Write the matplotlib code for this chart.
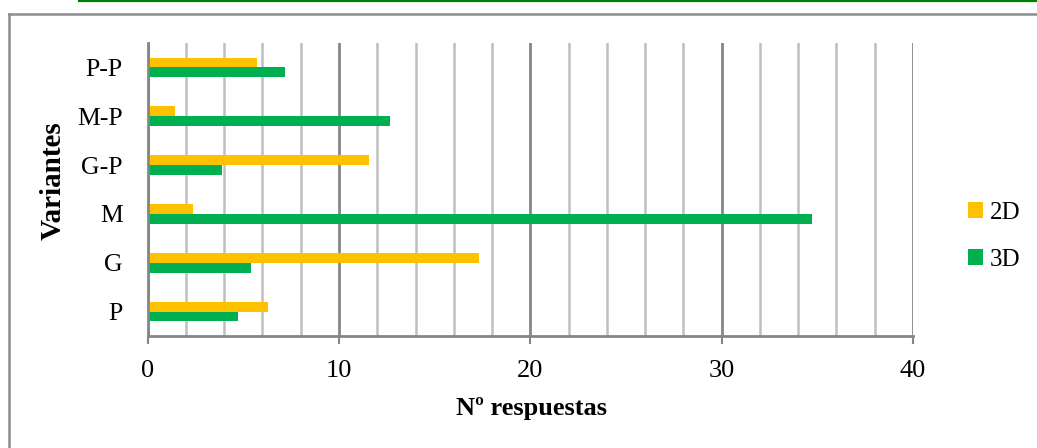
import matplotlib
matplotlib.use("Agg")
import matplotlib.pyplot as plt
from matplotlib.lines import Line2D
from matplotlib.ticker import MultipleLocator
import numpy as np

categories = ["P", "G", "M", "G-P", "M-P", "P-P"]
values_2d = [6.3, 17.3, 2.35, 11.55, 1.45, 5.7]
values_3d = [4.7, 5.4, 34.7, 3.9, 12.65, 7.2]
series_names = ["2D", "3D"]
x_ticks = [0, 10, 20, 30, 40]

W, H = 1037, 448
plt.rcParams["font.family"] = ["Liberation Serif", "DejaVu Serif"]

fig = plt.figure(figsize=(W / 100, H / 100), dpi=100)
ax = fig.add_axes([147.7 / W, 1 - 336 / H, (913 - 147.7) / W, (336 - 43) / H])

y = np.arange(len(categories))
bh = 0.2
b2 = ax.barh(y + bh / 2, values_2d, height=bh, color="#FFC000", label=series_names[0], zorder=3)
b3 = ax.barh(y - bh / 2, values_3d, height=bh, color="#00B050", label=series_names[1], zorder=3)

ax.set_xlim(0, 40)
ax.set_ylim(-0.5, len(categories) - 0.5)
ax.set_xticks(x_ticks)
ax.xaxis.set_minor_locator(MultipleLocator(2))
ax.grid(which="minor", axis="x", color="#BFBFBF", lw=1.8, zorder=1)
ax.grid(which="major", axis="x", color="#868686", lw=2, zorder=2)
ax.set_yticks(y)
ax.set_yticklabels(categories)

for s in ["top", "right"]:
    ax.spines[s].set_visible(False)
for s in ["left", "bottom"]:
    ax.spines[s].set_color("#868686")
    ax.spines[s].set_linewidth(2)
    ax.spines[s].set_zorder(4)

ax.tick_params(axis="x", which="major", length=6, width=1.5, color="#868686",
               labelsize=19, pad=11)
ax.tick_params(axis="x", which="minor", length=0)
ax.tick_params(axis="y", length=0, labelsize=18.5, pad=18)

ax.set_xlabel("Nº respuestas", fontsize=19, fontweight="bold")
ax.set_ylabel("Variantes", fontsize=21, fontweight="bold")
ax.xaxis.set_label_coords((531 - 147.7) / 765.3, (336 - 397) / 293)
ax.yaxis.set_label_coords((67 - 147.7) / 765.3, (336 - 181) / 293)

leg = fig.legend(handles=[b2, b3], labels=series_names, loc="center left",
                 bbox_to_anchor=(945 / W, 1 - 236.5 / H), frameon=False,
                 fontsize=18, handlelength=0.6, handleheight=0.6,
                 handletextpad=0.3, labelspacing=1.0)

# document decorations: green rule and outer chart frame
fig.add_artist(Line2D([79 / W, 1], [1 - 1 / H, 1 - 1 / H], color="#008000", lw=1.6))
fig.add_artist(Line2D([9 / W, 1], [1 - 14 / H, 1 - 14 / H], color="#8C8C8C", lw=1.8))
fig.add_artist(Line2D([9 / W, 9 / W], [0, 1 - 14 / H], color="#8C8C8C", lw=1.8))

fig.savefig("out.png", dpi=100)
